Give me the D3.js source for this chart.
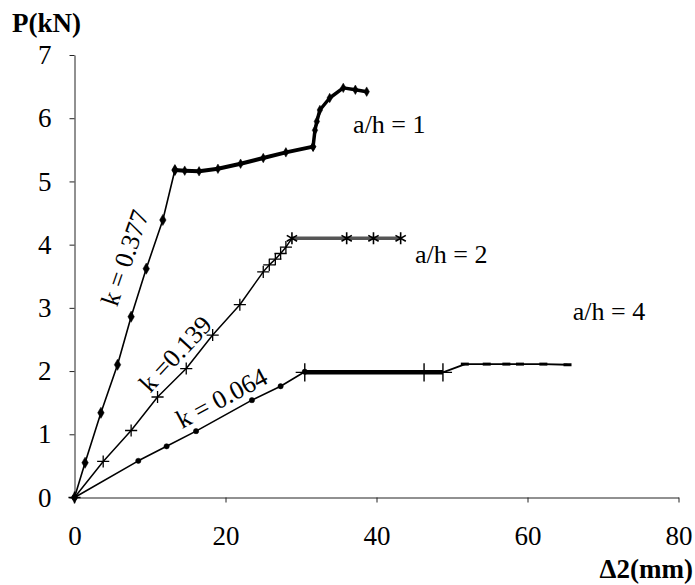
<!DOCTYPE html>
<html>
  <head>
    <meta charset='UTF-8'/>
    <script src="https://cdn.jsdelivr.net/npm/d3@7"></script>
    <style>
      body { margin : 0; background : white; }
      text { font-family : "Liberation Serif", "Times New Roman", serif; fill : black; }
      .tick line, .domain { stroke : #222; }
      .title { font-weight : bold; font-size : 27px; }
      .label { font-size : 26px; }
    </style>
  </head>
  <body>
    <svg id='fig' width='695' height='585'></svg>
    <script>
      // a/h = 1, k = 0.377
      const h1X = [0, 1.4, 3.5, 5.7, 7.5, 9.5, 11.7, 13.3]
      const h1Y = [0, 0.55, 1.34, 2.10, 2.86, 3.62, 4.39, 5.18]
      const h1PlateauX = [13.3, 14.6, 16.5, 19, 22, 25, 28, 31.6]
      const h1PlateauY = [5.18, 5.17, 5.16, 5.2, 5.28, 5.37, 5.46, 5.55]
      const h1RiseX = [31.6, 31.85, 32.1, 32.5, 33.8, 35.6, 37.2, 38.7]
      const h1RiseY = [5.55, 5.81, 5.95, 6.13, 6.32, 6.48, 6.45, 6.42]

      // a/h = 2, k = 0.139
      const h2X = [0, 3.8, 7.5, 11.0, 14.8, 18.3, 21.9, 25.0, 25.8, 26.6, 27.3, 28.0]
      const h2Y = [0, 0.57, 1.06, 1.59, 2.04, 2.57, 3.05, 3.57, 3.68, 3.77, 3.86, 3.96]
      const h2PlateauX = [28.8, 36.05, 39.6, 43.2]
      const h2PlateauY = [4.1, 4.1, 4.1, 4.1]

      // a/h = 4, k = 0.064
      const h4X = [0, 8.45, 12.2, 16.1, 23.5, 27.3, 30.5]
      const h4Y = [0, 0.58, 0.81, 1.05, 1.54, 1.76, 1.99]
      const h4PlateauX = [30.5, 46.3, 48.8]
      const h4PlateauY = [1.98, 1.98, 1.98]
      const h4TailX = [48.8, 51.3, 51.7, 54.6, 57.2, 59.0, 62.1, 65.3]
      const h4TailY = [1.98, 2.09, 2.11, 2.11, 2.11, 2.11, 2.11, 2.1]

      const xTicks = [0, 20, 40, 60, 80]
      const yTicks = [0, 1, 2, 3, 4, 5, 6, 7]

      const ahLabels = ["a/h = 1", "a/h = 2", "a/h = 4"]
      const ahLabelX = [36.9, 45.1, 66.0]
      const ahLabelY = [5.77, 3.71, 2.81]
      const kLabels = ["k = 0.377", "k =0.139", "k = 0.064"]
      const kLabelX = [6.7, 13.4, 19.5]
      const kLabelY = [3.79, 2.27, 1.57]
      const kAngle = [-71, -47, -28]

      const zip = (xs, ys) => xs.map((x, i) => [x, ys[i]])

      var svg = d3.select("#fig")
      var x = d3.scaleLinear().domain([0, 80]).range([74.5, 678.5])
      var y = d3.scaleLinear().domain([0, 7]).range([497.5, 55])

      svg.append("g")
	  .attr("transform", `translate(0,${y(0)})`)
	  .call(d3.axisBottom(x).tickValues(xTicks).tickFormat(d3.format("d"))
		.tickSize(5).tickPadding(23).tickSizeOuter(0))
	  .call(g => g.selectAll("text").style("font-size", "27px"))

      svg.append("g")
	  .attr("transform", `translate(${x(0)},0)`)
	  .call(d3.axisLeft(y).tickValues(yTicks).tickFormat(d3.format("d"))
		.tickSize(5).tickPadding(18).tickSizeOuter(0))
	  .call(g => g.selectAll("text").style("font-size", "27px"))

      svg.append("text").attr("class", "title")
	  .attr("x", 12).attr("y", 32).text("P(kN)")
      svg.append("text").attr("class", "title")
	  .attr("x", 693).attr("y", 578).attr("text-anchor", "end").text("Δ2(mm)")

      var line = d3.line().x(d => x(d[0])).y(d => y(d[1]))

      function path(data, width, color) {
	  svg.append("path")
	      .datum(data)
	      .attr("d", line)
	      .attr("fill", "none")
	      .attr("stroke", color || "black")
	      .attr("stroke-width", width)
	      .attr("stroke-linejoin", "round")
      }

      function markers(data, type, size, filled, sw) {
	  svg.append("g").selectAll("path")
	      .data(data)
	      .join("path")
	      .attr("transform", d => `translate(${x(d[0])},${y(d[1])})`)
	      .attr("d", d3.symbol(type, size))
	      .attr("fill", filled ? "black" : "none")
	      .attr("stroke", "black")
	      .attr("stroke-width", filled ? 0.5 : sw)
      }

      // a/h = 1
      path(zip(h1X, h1Y), 1.6)
      path(zip(h1PlateauX, h1PlateauY), 4)
      path(zip(h1RiseX, h1RiseY), 3.5)
      markers(zip(h1X, h1Y), d3.symbolDiamond, 36, true)
      markers(zip(h1PlateauX, h1PlateauY), d3.symbolDiamond, 26, true)
      markers(zip(h1RiseX, h1RiseY), d3.symbolDiamond, 26, true)

      // a/h = 2
      path(zip(h2X, h2Y).concat([[h2PlateauX[0], h2PlateauY[0]]]), 1.5)
      path(zip(h2PlateauX, h2PlateauY), 3.5, "#555")
      markers(zip(h2X, h2Y), d3.symbolPlus, 50, false, 1.3)
      markers(zip(h2PlateauX, h2PlateauY), d3.symbolAsterisk, 100, false, 1.6)

      // a/h = 4
      path(zip(h4X, h4Y), 1.6)
      path(zip(h4PlateauX, h4PlateauY), 4.5)
      path(zip(h4TailX, h4TailY), 1.8)
      markers(zip(h4X, h4Y), d3.symbolCircle, 22, true)
      markers(zip(h4PlateauX, h4PlateauY), d3.symbolPlus, 110, false, 1.4)
      svg.append("g").selectAll("line")
	  .data(zip(h4TailX, h4TailY).slice(2))
	  .join("line")
	  .attr("x1", d => x(d[0]) - 4).attr("x2", d => x(d[0]) + 4)
	  .attr("y1", d => y(d[1])).attr("y2", d => y(d[1]))
	  .attr("stroke", "black").attr("stroke-width", 3)

      // labels
      svg.append("g").selectAll("text")
	  .data(ahLabels)
	  .join("text")
	  .attr("class", "label")
	  .attr("x", (d, i) => x(ahLabelX[i]))
	  .attr("y", (d, i) => y(ahLabelY[i]))
	  .text(d => d)

      svg.append("g").selectAll("text")
	  .data(kLabels)
	  .join("text")
	  .attr("class", "label")
	  .attr("text-anchor", "middle")
	  .attr("dominant-baseline", "central")
	  .attr("transform", (d, i) => `translate(${x(kLabelX[i])},${y(kLabelY[i])}) rotate(${kAngle[i]})`)
	  .text(d => d)
    </script>
  </body>
</html>
